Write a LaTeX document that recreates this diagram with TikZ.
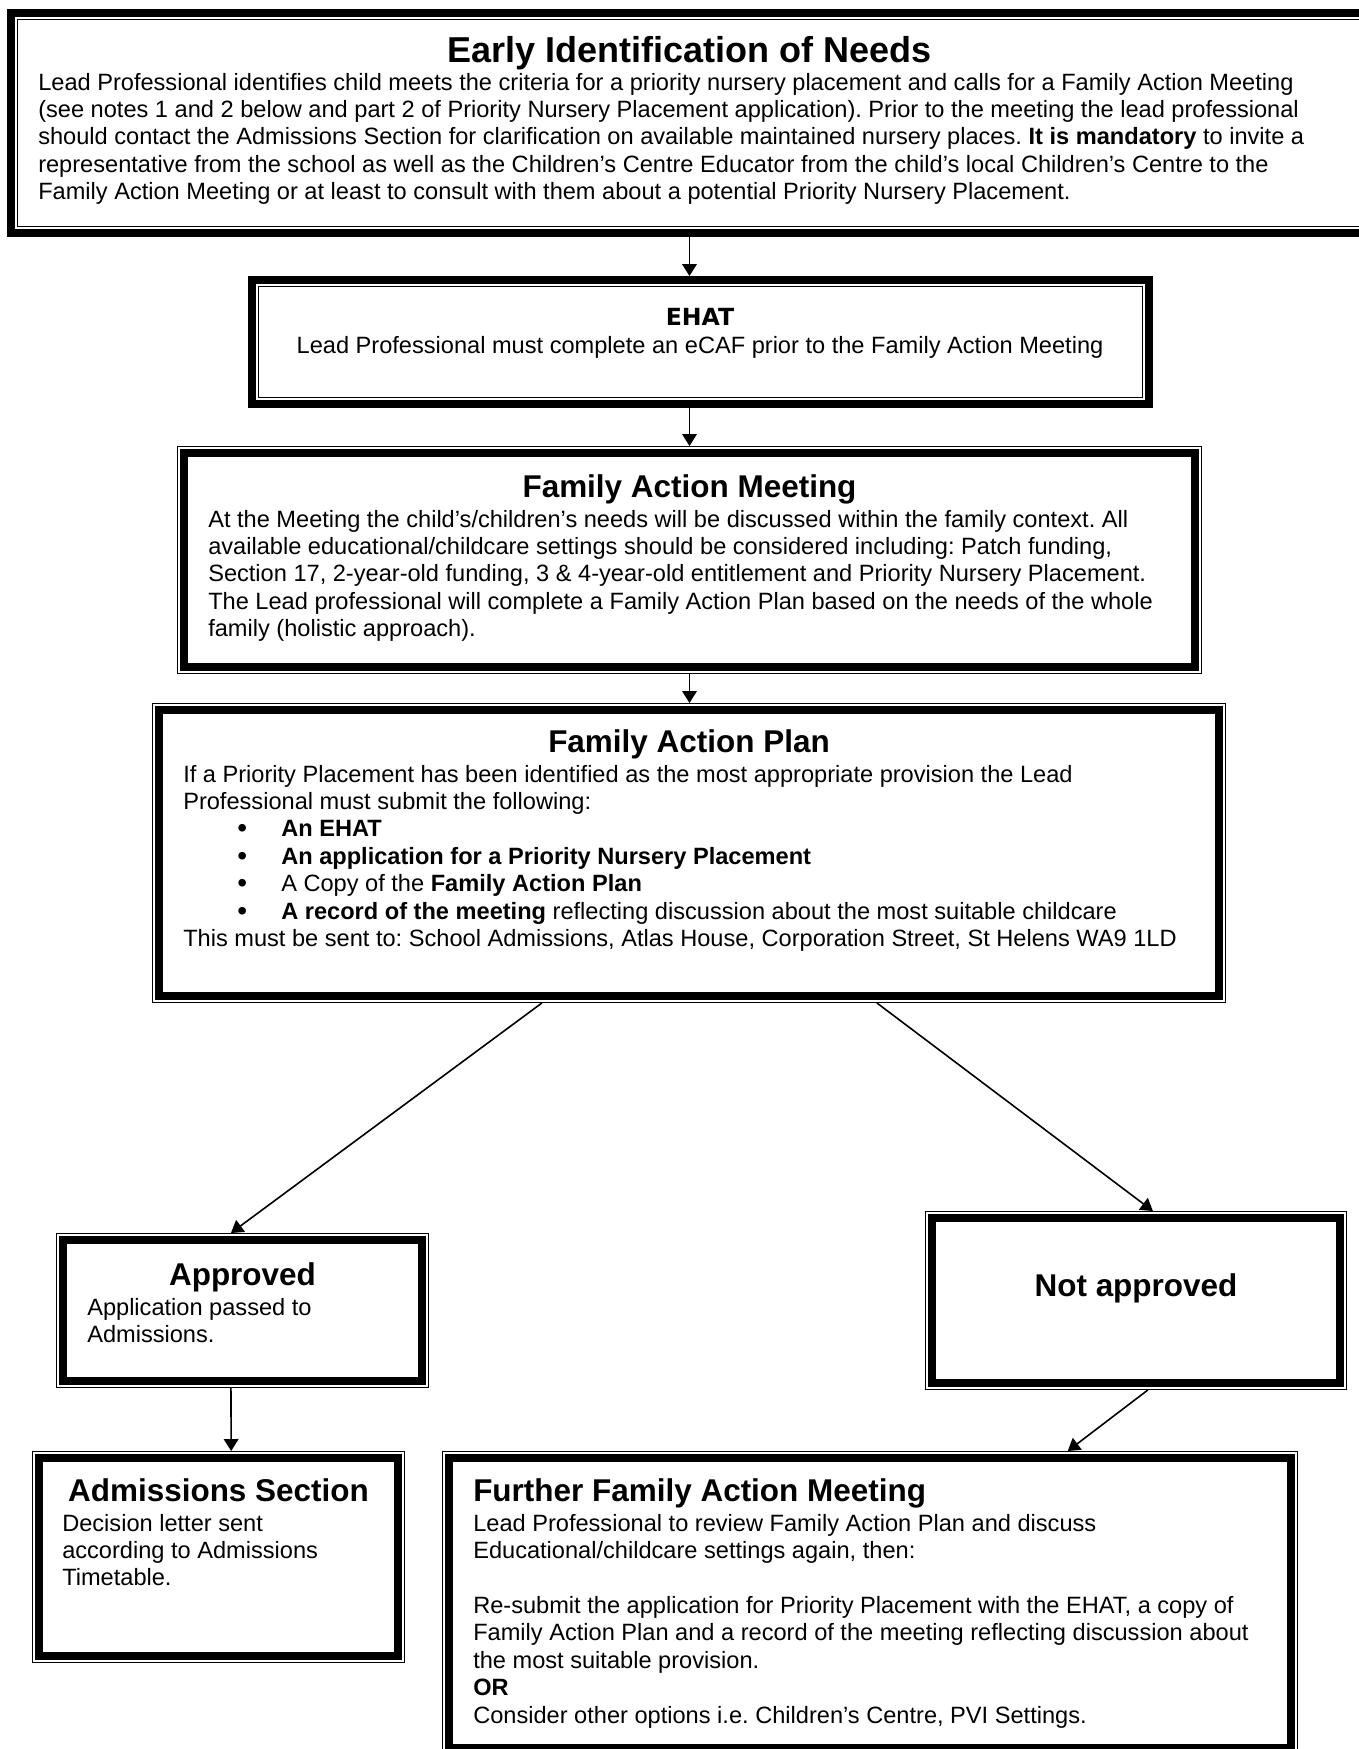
\documentclass[tikz,border=0pt]{standalone}
\usepackage{fontspec}
\setmainfont{Liberation Sans}
\newfontfamily\ehatfont{DejaVu Sans}
\usetikzlibrary{arrows.meta,calc}
\frenchspacing
\newcommand\bodyf{\fontsize{17.7pt}{20.6pt}\selectfont}
\newcommand\ttlf{\fontsize{23.6pt}{26pt}\selectfont\bfseries}
\newcommand\bigttlf{\fontsize{27pt}{30pt}\selectfont\bfseries}
\newcommand\blt{\hspace*{40.5pt}\makebox[33pt][l]{\raisebox{-0.5pt}{\fontsize{21pt}{20pt}\selectfont\textbullet}}}
% thin line outside, thick line inside
\newcommand{\boxA}[5]{%
  \node[thk, outer sep=5.25pt, anchor=north west,
        minimum width={(#4-#2-14)*0.75pt}, minimum height={(#5-#3-14)*0.75pt}] (#1) at (#2,#3) {};
  \draw[thn] ([shift={(0.7,0.7)}]#1.north west) rectangle ([shift={(-0.7,-0.7)}]#1.south east);}
% thick line outside, thin line inside
\newcommand{\boxB}[5]{%
  \node[thk, outer sep=2.9pt, anchor=north west,
        minimum width={(#4-#2-7.8)*0.75pt}, minimum height={(#5-#3-7.8)*0.75pt}] (#1) at (#2,#3) {};
  \draw[thn] ([shift={(10.7,10.7)}]#1.north west) rectangle ([shift={(-10.7,-10.7)}]#1.south east);}
\begin{document}
\begin{tikzpicture}[x=0.75pt,y=-0.75pt,
  thk/.style={draw, rectangle, line width=5.6pt, inner sep=0pt},
  thn/.style={draw, line width=1pt},
  arr/.style={line width=1.2pt, -{Triangle[length=9pt,width=11pt]}},
  ttl/.style={font=\ttlf, inner sep=0pt, anchor=base},
  bdy/.style={font=\bodyf, inner sep=0pt, anchor=base west}]
\useasboundingbox (0,0) rectangle (1359,1749);
\fill[white] (0,0) rectangle (1359,1749);

% boxes
\boxB{top}{7}{9}{1372}{237}
\boxB{ehat}{248}{276}{1153}{408}
\boxA{fam}{177}{446}{1202}{674}
\boxA{fap}{152}{703}{1226}{1003}
\boxA{app}{56}{1233}{429}{1388}
\boxA{nap}{925}{1211}{1347}{1390}
\boxA{adm}{32}{1451}{405}{1663}
\boxA{fur}{442}{1451}{1298}{1755}

% texts
\node[ttl, font=\bigttlf] (topT) at (689.5,62) {Early Identification of Needs};
\node[bdy] (topB) at (38,90) {\parbox[t]{1100pt}{\bodyf
Lead Professional identifies child meets the criteria for a priority nursery placement and calls for a Family Action Meeting\\
(see notes 1 and 2 below and part 2 of Priority Nursery Placement application). Prior to the meeting the lead professional\\
should contact the Admissions Section for clarification on available maintained nursery places. \textbf{It is mandatory} to invite a\\
representative from the school as well as the Children’s Centre Educator from the child’s local Children’s Centre to the\\
Family Action Meeting or at least to consult with them about a potential Priority Nursery Placement.}};

\node[inner sep=0pt, anchor=base, font={\ehatfont\bfseries\fontsize{17.7pt}{20pt}\selectfont}] (ehatT) at (700,325) {EHAT};
\node[inner sep=0pt, anchor=base, font=\bodyf] (ehatB) at (700,353) {Lead Professional must complete an eCAF prior to the Family Action Meeting};

\node[ttl] (famT) at (689.5,497) {Family Action Meeting};
\node[bdy] (famB) at (208,527) {\parbox[t]{900pt}{\bodyf
At the Meeting the child’s/children’s needs will be discussed within the family context. All\\
available educational/childcare settings should be considered including: Patch funding,\\
Section 17, 2-year-old funding, 3 \& 4-year-old entitlement and Priority Nursery Placement.\\
The Lead professional will complete a Family Action Plan based on the needs of the whole\\
family (holistic approach).}};

\node[ttl] (fapT) at (689,752) {Family Action Plan};
\node[bdy] (fapB) at (183,782) {\parbox[t]{900pt}{\bodyf
If a Priority Placement has been identified as the most appropriate provision the Lead\\
Professional must submit the following:\\
\blt\textbf{An EHAT}\\
\blt\textbf{An application for a Priority Nursery Placement}\\
\blt A Copy of the \textbf{Family Action Plan}\\
\blt\textbf{A record of the meeting} reflecting discussion about the most suitable childcare\\
This must be sent to: School Admissions, Atlas House, Corporation Street, St Helens WA9 1LD}};

\node[ttl] (appT) at (242.5,1285) {Approved};
\node[bdy] (appB) at (87,1315) {\parbox[t]{300pt}{\bodyf
Application passed to\\
Admissions.}};

\node[ttl] (napT) at (1136,1296) {Not approved};

\node[ttl] (admT) at (218.5,1501) {Admissions Section};
\node[bdy] (admB) at (62,1531) {\parbox[t]{300pt}{\bodyf
Decision letter sent\\
according to Admissions\\
Timetable.}};

\node[ttl, anchor=base west] (furT) at (473,1501) {Further Family Action Meeting};
\node[bdy] (furB) at (473,1531) {\parbox[t]{700pt}{\bodyf
Lead Professional to review Family Action Plan and discuss\\
Educational/childcare settings again, then:\\[20.6pt]
Re-submit the application for Priority Placement with the EHAT, a copy of\\
Family Action Plan and a record of the meeting reflecting discussion about\\
the most suitable provision.\\
\textbf{OR}\\
Consider other options i.e. Children’s Centre, PVI Settings.}};

% connectors
\draw[arr] (top.south) -- (top.south |- ehat.north);
\draw[arr] (ehat.south -| fam.north) -- (fam.north);
\draw[arr] (fam.south) -- (fam.south |- fap.north);
\draw[arr] ($(fap.south west)!0.363!(fap.south east)$) -- ($(app.north west)!0.469!(app.north east)$);
\draw[arr] ($(fap.south west)!0.675!(fap.south east)$) -- ($(nap.north west)!0.54!(nap.north east)$);
\draw[arr] ($(app.south west)!0.469!(app.south east)$) -- ($(adm.north west)!0.534!(adm.north east)$);
\draw[arr] ($(nap.south west)!0.528!(nap.south east)$) -- ($(fur.north west)!0.731!(fur.north east)$);
\end{tikzpicture}
\end{document}
